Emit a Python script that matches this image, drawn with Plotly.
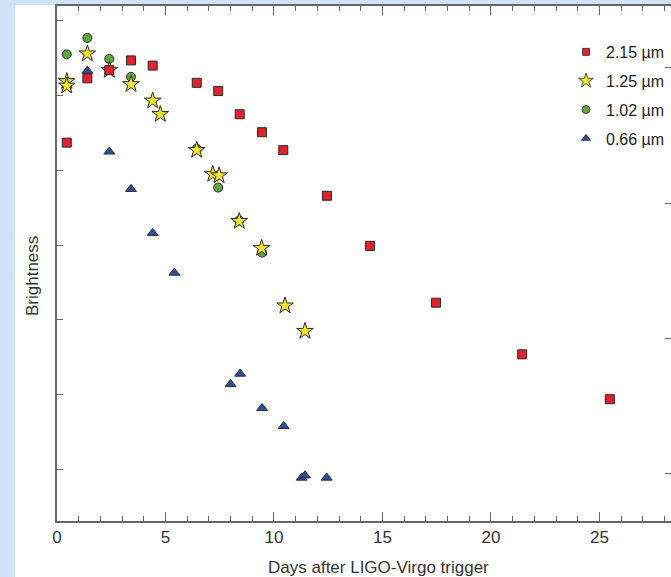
import plotly.graph_objects as go

# ---- data (arbitrary brightness units) ----
red_days = [0.45, 1.4, 2.41, 3.41, 4.41, 6.44, 7.43, 8.42, 9.45, 10.43, 12.44, 14.43, 17.47, 21.44, 25.48]
red_vals = [5.37, 6.23, 6.34, 6.47, 6.40, 6.17, 6.06, 5.75, 5.51, 5.27, 4.66, 3.99, 3.23, 2.54, 1.94]

yellow_days = [0.45, 0.45, 1.4, 2.41, 3.41, 4.41, 4.76, 6.44, 7.18, 7.47, 8.40, 9.43, 10.51, 11.43]
yellow_vals = [6.19, 6.13, 6.56, 6.34, 6.15, 5.93, 5.75, 5.27, 4.95, 4.93, 4.32, 3.96, 3.19, 2.85]

green_days = [0.45, 1.4, 2.41, 3.41, 6.44, 7.43, 8.40, 9.45]
green_vals = [6.55, 6.77, 6.49, 6.25, 5.29, 4.77, 4.33, 3.90]

blue_days = [1.4, 2.41, 3.41, 4.41, 5.41, 8.0, 8.44, 9.45, 10.45, 11.28, 11.43, 12.43]
blue_vals = [6.33, 5.25, 4.75, 4.16, 3.63, 2.14, 2.28, 1.82, 1.58, 0.89, 0.92, 0.89]

x_major = [0, 5, 10, 15, 20, 25]

W, H = 671, 577
ML, MR, MT, MB = 57, 0, 6, 56
PW, PH = W - ML - MR, H - MT - MB

fig = go.Figure()

# drawing order: blue at the back, red in front
series = [
    ("0.66 µm", blue_days, blue_vals, "triangle-up", 9.5, 8, "#2a4f9c"),
    ("1.02 µm", green_days, green_vals, "circle", 9, 8, "#5aa83c"),
    ("1.25 µm", yellow_days, yellow_vals, "star", 12.5, 11, "#f2e530"),
    ("2.15 µm", red_days, red_vals, "square", 9, 7, "#e0222a"),
]
for name, xs, ys, sym, sz, lsz, col in series:
    fig.add_trace(go.Scatter(
        x=xs, y=ys, mode="markers", name=name, showlegend=False,
        marker=dict(symbol=sym, size=sz, color=col,
                    line=dict(color="#2a2a2a", width=1)),
    ))
# legend entries (smaller symbols, as in the original key), listed red first
for name, xs, ys, sym, sz, lsz, col in reversed(series):
    fig.add_trace(go.Scatter(
        x=[None], y=[None], mode="markers", name=name, hoverinfo="skip",
        legendgroup=name,
        marker=dict(symbol=sym, size=lsz, color=col,
                    line=dict(color="#2a2a2a", width=0.8)),
    ))

# invisible trace to carry the right-hand tick axis
fig.add_trace(go.Scatter(x=[None], y=[None], yaxis="y2", showlegend=False, hoverinfo="skip"))

axis_col = "#666666"
fig.update_layout(
    width=W, height=H,
    margin=dict(l=ML, r=MR, t=MT, b=MB),
    paper_bgcolor="#cfe2f7",
    plot_bgcolor="white",
    font=dict(family="Liberation Sans, Arial, sans-serif", color="#333333", size=16),
    showlegend=True,
    legend=dict(
        x=(566 - ML) / PW, y=(521 - 35) / PH, xanchor="left", yanchor="top",
        bgcolor="rgba(0,0,0,0)", font=dict(size=16, color="#222222"),
        traceorder="grouped", itemsizing="trace", itemwidth=30,
        tracegroupgap=5,
    ),
    xaxis=dict(
        range=[0, 28.3], showgrid=False, zeroline=False,
        showline=True, linecolor=axis_col, linewidth=1.5, mirror="ticks",
        tickmode="array", tickvals=x_major, ticktext=[str(v) for v in x_major],
        ticks="inside", ticklen=9, tickwidth=1.2, tickcolor=axis_col,
        minor=dict(dtick=1, tick0=0, ticks="inside", ticklen=5, tickwidth=1.2, tickcolor=axis_col, showgrid=False),
        tickfont=dict(size=17, color="#333333"),
    ),
    yaxis=dict(
        range=[0.312, 7.197], showgrid=False, zeroline=False,
        showline=True, linecolor=axis_col, linewidth=1.5,
        tickmode="linear", tick0=0, dtick=1,
        ticks="inside", ticklen=6, tickwidth=1.2, tickcolor=axis_col,
        showticklabels=False,
    ),
    yaxis2=dict(
        overlaying="y", side="right", range=[-0.347, 3.454],
        showgrid=False, zeroline=False, showline=False,
        tickmode="linear", tick0=0, dtick=1,
        ticks="inside", ticklen=6, tickwidth=1.2, tickcolor=axis_col,
        showticklabels=False,
    ),
    annotations=[
        dict(
            text="Brightness", xref="paper", yref="paper",
            x=(32 - ML) / PW, y=(521 - 276) / PH, textangle=-90,
            showarrow=False, font=dict(size=17, color="#333333"),
            xanchor="center", yanchor="middle",
        ),
        dict(
            text="Days after LIGO-Virgo trigger", xref="paper", yref="paper",
            x=(378 - ML) / PW, y=(521 - 567) / PH,
            showarrow=False, font=dict(size=17, color="#333333"),
            xanchor="center", yanchor="middle",
        ),
    ],
    shapes=[dict(
        type="rect", xref="paper", yref="paper", layer="below",
        x0=(15 - ML) / PW, x1=1.1, y0=-0.2, y1=1 + 1 / PH,
        fillcolor="white", line=dict(width=0),
    )],
)

fig.write_html(
    "out.html",
    config={"displayModeBar": False},
    post_script="document.body.style.margin='0';document.body.style.overflow='hidden';",
)
